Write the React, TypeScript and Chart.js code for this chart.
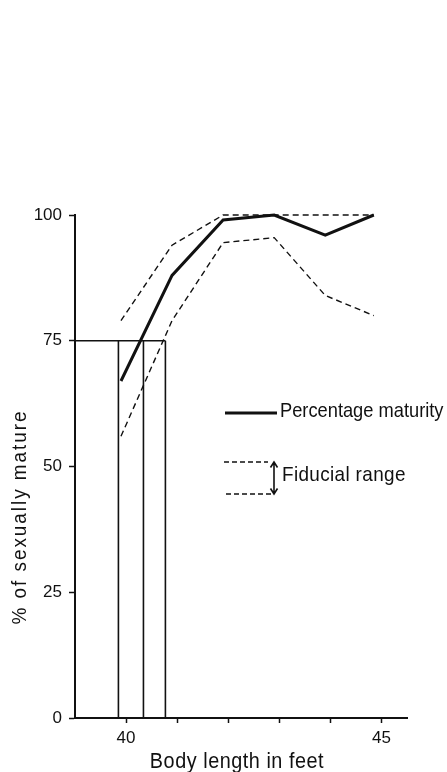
import React, { useEffect, useRef } from "react";
import { Chart, registerables } from "chart.js";

Chart.register(...registerables);

// Body length (feet) at which each maturity sample is plotted
const lengthFeet = [39.9, 40.9, 41.9, 42.9, 43.9, 44.85];
// Percentage of sexually mature animals
const percentMature = [67, 88, 99, 100, 96, 100];
// Fiducial limits around the percentage
const fiducialUpper = [79, 94, 100, 100, 100, 100];
const fiducialLower = [56, 79, 94.5, 95.5, 84, 80];

// 75 % maturity level and the lengths where it is reached (lower limit, estimate, upper limit)
const maturityLevel = 75;
const lengthsAtMaturity = [39.85, 40.34, 40.77];

const xTickValues = [40, 41, 42, 43, 44, 45];
const xTickLabels = ["40", "", "", "", "", "45"];
const yTickValues = [0, 25, 50, 75, 100];

const FONT = "'Liberation Sans', Arial, sans-serif";
const INK = "#111";

const pairs = (xs: number[], ys: number[]) => xs.map((x, i) => ({ x, y: ys[i] }));

// Lettering is a little condensed: draw text squeezed horizontally.
function letter(
  ctx: CanvasRenderingContext2D,
  text: string,
  x: number,
  y: number,
  size: number,
  squeeze: number,
  align: CanvasTextAlign = "left",
  spacing = 0
) {
  ctx.save();
  ctx.translate(x, y);
  ctx.scale(squeeze, 1);
  ctx.font = `${size}px ${FONT}`;
  (ctx as any).letterSpacing = `${spacing}px`;
  ctx.textAlign = align;
  ctx.textBaseline = "middle";
  ctx.fillText(text, 0, 0);
  ctx.restore();
}

const figureText = {
  id: "figureText",
  afterDraw(chart: any) {
    const { ctx, chartArea } = chart;
    ctx.save();
    ctx.fillStyle = INK;
    ctx.strokeStyle = INK;
    ctx.lineCap = "butt";

    // legend: solid line
    ctx.lineWidth = 3;
    ctx.beginPath();
    ctx.moveTo(225, 413);
    ctx.lineTo(277, 413);
    ctx.stroke();
    letter(ctx, "Percentage maturity", 280, 411, 21, 0.87);

    // legend: fiducial range
    ctx.lineWidth = 1.4;
    ctx.setLineDash([5, 3]);
    ctx.beginPath();
    ctx.moveTo(224, 462);
    ctx.lineTo(268, 462);
    ctx.moveTo(226, 494);
    ctx.lineTo(272, 494);
    ctx.stroke();
    ctx.setLineDash([]);
    ctx.lineWidth = 1.6;
    ctx.beginPath();
    ctx.moveTo(274, 463);
    ctx.lineTo(274, 493);
    ctx.moveTo(270.5, 467.5);
    ctx.lineTo(274, 462);
    ctx.lineTo(277.5, 467.5);
    ctx.moveTo(270.5, 488.5);
    ctx.lineTo(274, 494);
    ctx.lineTo(277.5, 488.5);
    ctx.stroke();
    letter(ctx, "Fiducial range", 282, 475, 21, 0.9, "left", 0.4);

    // x axis title
    letter(ctx, "Body length in feet", (chartArea.left + chartArea.right) / 2 - 4, 762, 22, 0.9, "center", 0.6);

    // y axis title
    ctx.translate(20, 517);
    ctx.rotate(-Math.PI / 2);
    letter(ctx, "% of sexually mature", 0, 0, 21, 0.9, "center", 2.2);
    ctx.restore();
  },
};

export default function App() {
  const canvasRef = useRef<HTMLCanvasElement | null>(null);

  useEffect(() => {
    const canvas = canvasRef.current;
    if (!canvas) return;

    const solid = { borderColor: INK, borderWidth: 3, pointRadius: 0, tension: 0, clip: false as any };
    const dashed = { borderColor: INK, borderWidth: 1.4, borderDash: [6, 4], pointRadius: 0, tension: 0, clip: false as any };
    const rule = { borderColor: INK, borderWidth: 1.6, pointRadius: 0, tension: 0, clip: false as any };

    const dropLines = lengthsAtMaturity.map((len) => ({
      ...rule,
      label: `drop ${len}`,
      data: [
        { x: len, y: 0 },
        { x: len, y: maturityLevel },
      ],
    }));

    const chart = new Chart(canvas, {
      type: "line",
      data: {
        datasets: [
          { ...solid, label: "Percentage maturity", data: pairs(lengthFeet, percentMature) },
          { ...dashed, label: "Fiducial upper", data: pairs(lengthFeet, fiducialUpper) },
          { ...dashed, label: "Fiducial lower", data: pairs(lengthFeet, fiducialLower) },
          {
            ...rule,
            label: "75% level",
            data: [
              { x: 39, y: maturityLevel },
              { x: lengthsAtMaturity[lengthsAtMaturity.length - 1], y: maturityLevel },
            ],
          },
          ...dropLines,
        ],
      },
      options: {
        responsive: false,
        animation: false,
        devicePixelRatio: 1,
        layout: { padding: { top: 215, right: 40, left: 0, bottom: 0 } },
        plugins: { legend: { display: false }, tooltip: { enabled: false } },
        scales: {
          x: {
            type: "linear",
            min: 39,
            max: 45.5,
            afterFit: (s: any) => {
              s.height = 54;
            },
            afterBuildTicks: (s: any) => {
              s.ticks = xTickValues.map((value) => ({ value }));
            },
            ticks: {
              autoSkip: false,
              maxRotation: 0,
              padding: 5,
              color: INK,
              font: { family: FONT, size: 17 },
              callback: (v: any) => xTickLabels[xTickValues.indexOf(Number(v))] ?? "",
            },
            grid: { drawOnChartArea: false, drawTicks: true, tickLength: 5, tickColor: INK, tickWidth: 1.5 },
            border: { display: true, color: INK, width: 2 },
          },
          y: {
            type: "linear",
            min: 0,
            max: 100,
            afterFit: (s: any) => {
              s.width = 75;
            },
            afterBuildTicks: (s: any) => {
              s.ticks = yTickValues.map((value) => ({ value }));
            },
            ticks: {
              padding: 7,
              color: INK,
              font: { family: FONT, size: 17 },
              callback: (v: any) => String(v),
            },
            grid: { drawOnChartArea: false, drawTicks: true, tickLength: 6, tickColor: INK, tickWidth: 1.5 },
            border: { display: true, color: INK, width: 2 },
          },
        },
      },
      plugins: [figureText],
    });

    return () => chart.destroy();
  }, []);

  return (
    <div style={{ position: "fixed", left: 0, top: 0, width: 447, height: 772, background: "#fff" }}>
      <canvas ref={canvasRef} width={447} height={772} style={{ display: "block" }} />
    </div>
  );
}
